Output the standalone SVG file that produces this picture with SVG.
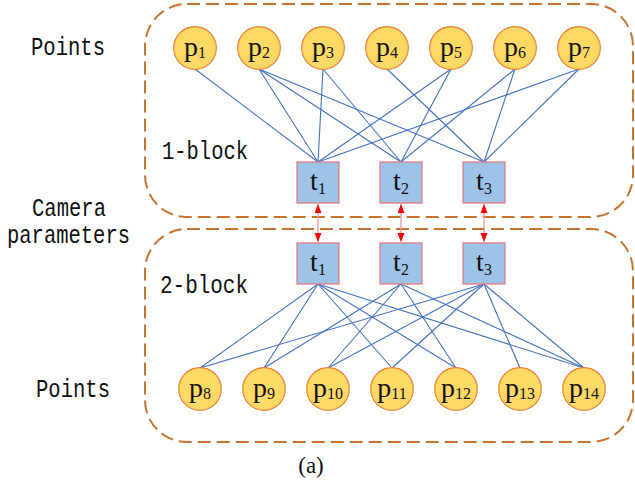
<svg xmlns="http://www.w3.org/2000/svg" width="635" height="485" viewBox="0 0 635 485">
  <style>
    .block { fill: none; stroke: #C8742F; stroke-width: 2; stroke-dasharray: 13 6; }
    .pt circle { fill: #FFD966; stroke: #ED7D31; stroke-width: 1.2; }
    .cam rect { fill: #9DC3E6; stroke: #E8747C; stroke-width: 1.2; }
    .edges line { stroke: #4472C4; stroke-width: 1.1; }
    .links line { stroke: #F29A9A; stroke-width: 1.3; }
    .lbl { font-family: "Liberation Mono", "DejaVu Sans Mono", monospace; font-size: 25px; fill: #111; }
    .nl { font-family: "Liberation Serif", "DejaVu Serif", serif; fill: #111; text-anchor: middle; }
    .p { font-size: 28px; }
    .t { font-size: 28px; }
    .sub { font-size: 16px; }
  </style>
  <defs>
    <marker id="tip" markerUnits="userSpaceOnUse" markerWidth="10" markerHeight="8" refX="9" refY="3.5" orient="auto-start-reverse">
      <path d="M0,0 L9,3.5 L0,7 z" fill="#FF0000"/>
    </marker>
  </defs>

  <!-- block outlines -->
  <g id="block1"><rect class="block" x="145" y="4" width="488" height="213" rx="42" ry="42"/></g>
  <g id="block2"><rect class="block" x="145" y="229" width="488" height="213" rx="42" ry="42"/></g>

  <!-- side labels -->
  <g id="labels">
    <text class="lbl" x="31" y="55" textLength="74" lengthAdjust="spacingAndGlyphs">Points</text>
    <text class="lbl" x="32" y="216" textLength="74" lengthAdjust="spacingAndGlyphs">Camera</text>
    <text class="lbl" x="7" y="243" textLength="123" lengthAdjust="spacingAndGlyphs">parameters</text>
    <text class="lbl" x="36" y="397" textLength="74" lengthAdjust="spacingAndGlyphs">Points</text>
    <text class="lbl" x="162" y="159" textLength="86" lengthAdjust="spacingAndGlyphs">1-block</text>
    <text class="lbl" x="160" y="293" textLength="88" lengthAdjust="spacingAndGlyphs">2-block</text>
    <text class="nl" x="311" y="473" font-size="23">(a)</text>
  </g>

  <!-- connectors -->
  <g id="edges" class="edges">
    <!-- block 1: points to cameras -->
    <line x1="195" y1="69" x2="318" y2="162"/>
    <line x1="259" y1="69" x2="318" y2="162"/>
    <line x1="259" y1="69" x2="401" y2="162"/>
    <line x1="259" y1="69" x2="484" y2="162"/>
    <line x1="323" y1="69" x2="318" y2="162"/>
    <line x1="323" y1="69" x2="401" y2="162"/>
    <line x1="387" y1="69" x2="484" y2="162"/>
    <line x1="451" y1="69" x2="318" y2="162"/>
    <line x1="451" y1="69" x2="401" y2="162"/>
    <line x1="515" y1="69" x2="401" y2="162"/>
    <line x1="515" y1="69" x2="484" y2="162"/>
    <line x1="579" y1="69" x2="318" y2="162"/>
    <line x1="579" y1="69" x2="484" y2="162"/>
    <!-- block 2: cameras to points -->
    <line x1="318" y1="284" x2="200" y2="368"/>
    <line x1="318" y1="284" x2="264" y2="368"/>
    <line x1="318" y1="284" x2="392" y2="368"/>
    <line x1="318" y1="284" x2="456" y2="368"/>
    <line x1="318" y1="284" x2="584" y2="368"/>
    <line x1="401" y1="284" x2="264" y2="368"/>
    <line x1="401" y1="284" x2="328" y2="368"/>
    <line x1="401" y1="284" x2="456" y2="368"/>
    <line x1="401" y1="284" x2="584" y2="368"/>
    <line x1="484" y1="284" x2="200" y2="368"/>
    <line x1="484" y1="284" x2="328" y2="368"/>
    <line x1="484" y1="284" x2="392" y2="368"/>
    <line x1="484" y1="284" x2="520" y2="368"/>
    <line x1="484" y1="284" x2="584" y2="368"/>
  </g>
  <g id="links" class="links">
    <line x1="318" y1="204" x2="318" y2="242" marker-start="url(#tip)" marker-end="url(#tip)"/>
    <line x1="401" y1="204" x2="401" y2="242" marker-start="url(#tip)" marker-end="url(#tip)"/>
    <line x1="484" y1="204" x2="484" y2="242" marker-start="url(#tip)" marker-end="url(#tip)"/>
  </g>

  <!-- point nodes, block 1 -->
  <g id="p1" class="pt"><circle cx="195" cy="48" r="21.3"/><text class="nl p" x="195" y="56">p<tspan class="sub" dy="2">1</tspan></text></g>
  <g id="p2" class="pt"><circle cx="259" cy="48" r="21.3"/><text class="nl p" x="259" y="56">p<tspan class="sub" dy="2">2</tspan></text></g>
  <g id="p3" class="pt"><circle cx="323" cy="48" r="21.3"/><text class="nl p" x="323" y="56">p<tspan class="sub" dy="2">3</tspan></text></g>
  <g id="p4" class="pt"><circle cx="387" cy="48" r="21.3"/><text class="nl p" x="387" y="56">p<tspan class="sub" dy="2">4</tspan></text></g>
  <g id="p5" class="pt"><circle cx="451" cy="48" r="21.3"/><text class="nl p" x="451" y="56">p<tspan class="sub" dy="2">5</tspan></text></g>
  <g id="p6" class="pt"><circle cx="515" cy="48" r="21.3"/><text class="nl p" x="515" y="56">p<tspan class="sub" dy="2">6</tspan></text></g>
  <g id="p7" class="pt"><circle cx="579" cy="48" r="21.3"/><text class="nl p" x="579" y="56">p<tspan class="sub" dy="2">7</tspan></text></g>

  <!-- camera nodes, block 1 -->
  <g id="t1a" class="cam"><rect x="297" y="162" width="42" height="41"/><text class="nl t" x="318" y="190">t<tspan class="sub" dy="4">1</tspan></text></g>
  <g id="t2a" class="cam"><rect x="380" y="162" width="42" height="41"/><text class="nl t" x="401" y="190">t<tspan class="sub" dy="4">2</tspan></text></g>
  <g id="t3a" class="cam"><rect x="463" y="162" width="42" height="41"/><text class="nl t" x="484" y="190">t<tspan class="sub" dy="4">3</tspan></text></g>

  <!-- camera nodes, block 2 -->
  <g id="t1b" class="cam"><rect x="297" y="243" width="42" height="41"/><text class="nl t" x="318" y="271">t<tspan class="sub" dy="4">1</tspan></text></g>
  <g id="t2b" class="cam"><rect x="380" y="243" width="42" height="41"/><text class="nl t" x="401" y="271">t<tspan class="sub" dy="4">2</tspan></text></g>
  <g id="t3b" class="cam"><rect x="463" y="243" width="42" height="41"/><text class="nl t" x="484" y="271">t<tspan class="sub" dy="4">3</tspan></text></g>

  <!-- point nodes, block 2 -->
  <g id="p8" class="pt"><circle cx="200" cy="389" r="21.3"/><text class="nl p" x="200" y="397">p<tspan class="sub" dy="2">8</tspan></text></g>
  <g id="p9" class="pt"><circle cx="264" cy="389" r="21.3"/><text class="nl p" x="264" y="397">p<tspan class="sub" dy="2">9</tspan></text></g>
  <g id="p10" class="pt"><circle cx="328" cy="389" r="21.3"/><text class="nl p" x="328" y="397">p<tspan class="sub" dy="2">10</tspan></text></g>
  <g id="p11" class="pt"><circle cx="392" cy="389" r="21.3"/><text class="nl p" x="392" y="397">p<tspan class="sub" dy="2">11</tspan></text></g>
  <g id="p12" class="pt"><circle cx="456" cy="389" r="21.3"/><text class="nl p" x="456" y="397">p<tspan class="sub" dy="2">12</tspan></text></g>
  <g id="p13" class="pt"><circle cx="520" cy="389" r="21.3"/><text class="nl p" x="520" y="397">p<tspan class="sub" dy="2">13</tspan></text></g>
  <g id="p14" class="pt"><circle cx="584" cy="389" r="21.3"/><text class="nl p" x="584" y="397">p<tspan class="sub" dy="2">14</tspan></text></g>
</svg>
